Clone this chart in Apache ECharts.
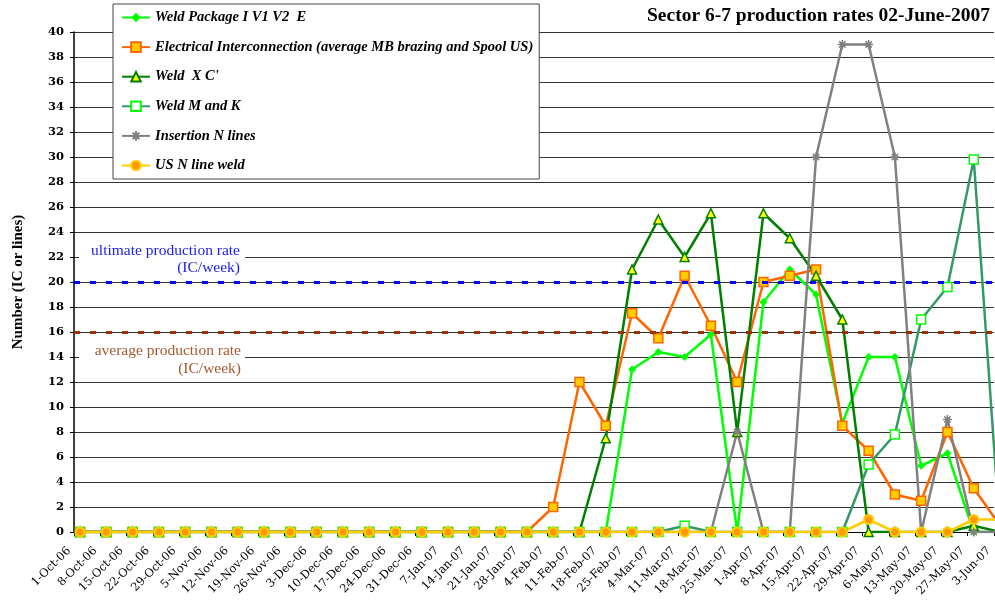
<!DOCTYPE html>
<html><head><meta charset="utf-8">
<script src="https://cdn.jsdelivr.net/npm/echarts@6/dist/echarts.min.js"></script>
<style>html,body{margin:0;padding:0;background:#fff}#c{width:995px;height:602px}</style>
</head><body><div id="c"></div><script>
const weekLabels = ['1-Oct-06','8-Oct-06','15-Oct-06','22-Oct-06','29-Oct-06','5-Nov-06','12-Nov-06','19-Nov-06','26-Nov-06','3-Dec-06','10-Dec-06','17-Dec-06','24-Dec-06','31-Dec-06','7-Jan-07','14-Jan-07','21-Jan-07','28-Jan-07','4-Feb-07','11-Feb-07','18-Feb-07','25-Feb-07','4-Mar-07','11-Mar-07','18-Mar-07','25-Mar-07','1-Apr-07','8-Apr-07','15-Apr-07','22-Apr-07','29-Apr-07','6-May-07','13-May-07','20-May-07','27-May-07','3-Jun-07'];
const seriesNames = ['Weld Package I V1 V2  E','Electrical Interconnection (average MB brazing and Spool US)',"Weld  X C'",'Weld M and K','Insertion N lines','US N line weld'];
const weldPackage = [0,0,0,0,0,0,0,0,0,0,0,0,0,0,0,0,0,0,0,0,0,13,14.4,14,15.8,0,18.4,21,19,8.7,14,14,5.3,6.3,0,0];
const electrical  = [0,0,0,0,0,0,0,0,0,0,0,0,0,0,0,0,0,0,2,12,8.5,17.5,15.5,20.5,16.5,12,20,20.5,21,8.5,6.5,3,2.5,8,3.5,0.5];
const weldXC      = [0,0,0,0,0,0,0,0,0,0,0,0,0,0,0,0,0,0,0,0,7.5,21,25,22,25.5,8,25.5,23.5,20.5,17,0,0,0,0,0.5,0];
const weldMK      = [0,0,0,0,0,0,0,0,0,0,0,0,0,0,0,0,0,0,0,0,0,0,0,0.5,0,0,0,0,0,0,5.4,7.8,17,19.6,29.8,0];
const insertionN  = [0,0,0,0,0,0,0,0,0,0,0,0,0,0,0,0,0,0,0,0,0,0,0,0,0,8,0,0,30,39,39,30,0,9,0,0];
const usNWeld     = [0,0,0,0,0,0,0,0,0,0,0,0,0,0,0,0,0,0,0,0,0,0,0,0,0,0,0,0,0,0,1,0,0,0,1,1];
const ultimateRate = 20;
const averageRate = 16;
const yMin = 0, yMax = 40, yStep = 2;

const pointShift = 0.23; // points sit slightly right of each weekly tick
const toPts = arr => arr.map((v, i) => [i + pointShift, v]);
const serif = '"Liberation Serif", "DejaVu Serif", serif';
const dserif = '"DejaVu Serif", serif';
const asterisk = 'path://M5,0L5,10M0,5L10,5M1.5,1.5L8.5,8.5M1.5,8.5L8.5,1.5';

function lineSeries(name, data, lineColor, symbol, size, fill, border, bw) {
  return {
    name, type: 'line', data: toPts(data), symbol, symbolSize: size,
    showAllSymbol: true, clip: true, animation: false,
    lineStyle: { color: lineColor, width: 2.5 },
    itemStyle: { color: fill, borderColor: border, borderWidth: bw },
    emphasis: { disabled: true }
  };
}

const chart = echarts.init(document.getElementById('c'));
chart.setOption({
  animation: false,
  backgroundColor: '#fff',
  title: {
    text: 'Sector 6-7 production rates 02-June-2007',
    right: 5, top: 6, padding: 0,
    textStyle: { fontFamily: serif, fontWeight: 'bold', fontSize: 19.5, color: '#000' }
  },
  grid: { left: 74, right: 1, top: 32, bottom: 70, outerBoundsMode: 'none', containLabel: false },
  legend: {
    data: seriesNames, orient: 'vertical', left: 113, top: 4,
    itemWidth: 28, itemHeight: 12, itemGap: 14.6,
    padding: [6, 6, 6, 8],
    backgroundColor: '#fff', borderColor: '#444', borderWidth: 1,
    textStyle: { fontFamily: serif, fontStyle: 'italic', fontWeight: 'bold', fontSize: 14.5, lineHeight: 14, color: '#000' }
  },
  xAxis: {
    type: 'value', min: 0, max: weekLabels.length - 1, interval: 1,
    axisLine: { show: true, onZero: false, lineStyle: { color: '#000', width: 1 } },
    axisTick: { show: true, length: 4, lineStyle: { color: '#000' } },
    splitLine: { show: false },
    axisLabel: {
      rotate: 45, margin: 12, showMinLabel: true, showMaxLabel: true,
      padding: [0, 7, 0, 0],
      fontFamily: dserif, fontSize: 11.5, color: '#000',
      formatter: v => weekLabels[Math.round(v)] || ''
    }
  },
  yAxis: {
    type: 'value', min: yMin, max: yMax, interval: yStep,
    name: 'Number (IC or lines)', nameLocation: 'middle', nameGap: 48,
    nameTextStyle: { fontFamily: serif, fontWeight: 'bold', fontSize: 15, color: '#000' },
    axisLine: { show: true, lineStyle: { color: '#000', width: 1.5 } },
    axisTick: { show: true, length: 4, lineStyle: { color: '#000' } },
    splitLine: { show: true, lineStyle: { color: '#333', width: 1 } },
    axisLabel: { fontFamily: dserif, fontWeight: 'bold', fontSize: 11.5, color: '#000', margin: 10 }
  },
  graphic: [
    { type: 'rect', left: 79, top: 244, shape: { width: 166, height: 32 }, style: { fill: '#fff' }, z: 1, silent: true },
    { type: 'rect', left: 79, top: 344, shape: { width: 166, height: 32 }, style: { fill: '#fff' }, z: 1, silent: true },
    { type: 'text', x: 240, y: 251, z: 2, silent: true, style: { text: 'ultimate production rate', align: 'right', verticalAlign: 'middle', fill: '#1a1aee', font: '15.5px "Liberation Serif", serif' } },
    { type: 'text', x: 240, y: 268, z: 2, silent: true, style: { text: '(IC/week)', align: 'right', verticalAlign: 'middle', fill: '#1a1aee', font: '15.5px "Liberation Serif", serif' } },
    { type: 'text', x: 241, y: 351, z: 2, silent: true, style: { text: 'average production rate', align: 'right', verticalAlign: 'middle', fill: '#a8582e', font: '15.5px "Liberation Serif", serif' } },
    { type: 'text', x: 241, y: 369, z: 2, silent: true, style: { text: '(IC/week)', align: 'right', verticalAlign: 'middle', fill: '#a8582e', font: '15.5px "Liberation Serif", serif' } }
  ],
  series: [
    {
      name: 'rates', type: 'line', data: [], silent: true,
      markLine: {
        silent: true, symbol: ['none', 'none'], label: { show: false }, animation: false,
        data: [
          { yAxis: ultimateRate, lineStyle: { color: '#0000ff', width: 3, type: [6, 10] } },
          { yAxis: averageRate, lineStyle: { color: '#993300', width: 3, type: [6, 10] } }
        ]
      }
    },
    lineSeries(seriesNames[0], weldPackage, '#00ff00', 'diamond', 8, '#00ff00', '#00ff00', 0),
    lineSeries(seriesNames[1], electrical, '#ff6600', 'rect', 9, '#ffcc00', '#ff6600', 1.5),
    lineSeries(seriesNames[2], weldXC, '#008000', 'triangle', 9, '#ffff00', '#008000', 1.5),
    lineSeries(seriesNames[3], weldMK, '#339966', 'rect', 9, '#ffffff', '#00ff00', 1.5),
    lineSeries(seriesNames[4], insertionN, '#808080', asterisk, 9, '#808080', '#808080', 1.5),
    lineSeries(seriesNames[5], usNWeld, '#ffcc00', 'circle', 9, '#ff9900', '#ffcc00', 2)
  ]
});
</script></body></html>
